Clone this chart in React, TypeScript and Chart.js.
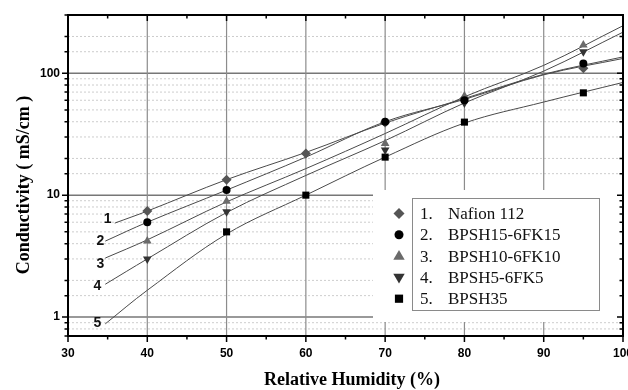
import React, { useEffect, useRef } from 'react';
import { Chart, registerables } from 'chart.js';

Chart.register(...registerables);

// ---- data ----
const rhPoints = [40, 50, 60, 70, 80, 95];
const nafion112 = [7.4, 13.4, 22, 39.5, 62, 110];
const bpsh15 = [6.0, 11.0, null, 40, 60, 120];
const bpsh10 = [4.2, 8.9, null, 26.5, 65, 170];
const bpsh5 = [3.0, 7.3, null, 23.5, 57, 150];
const bpsh35 = [null, 5.0, 10, 20.5, 39.7, 69];

const fitRH1 = [35.9, 40, 50, 60, 70, 80, 90, 100];
const fitRH = [34.7, 40, 50, 60, 70, 80, 90, 100];
const fit1 = [5.9, 7.4, 13.4, 22.4, 39, 62, 98, 136];
const fit2 = [4.2, 6.0, 11.0, 20.5, 40, 61, 97, 132];
const fit3 = [3.05, 4.3, 8.8, 16.5, 32, 64, 116, 245];
const fit4 = [1.86, 3.0, 7.2, 14.5, 28, 57, 104, 217];
const fit5 = [0.88, 1.66, 4.8, 10, 20.5, 39, 58, 84];

const seriesNames = ['Nafion 112', 'BPSH15-6FK15', 'BPSH10-6FK10', 'BPSH5-6FK5', 'BPSH35'];
const seriesNumbers = ['1.', '2.', '3.', '4.', '5.'];
const curveNumbers = ['1', '2', '3', '4', '5'];
const curveLabelRH = [35.0, 34.1, 34.1, 33.7, 33.7];
const curveLabelValue = [6.4, 4.2, 2.7, 1.8, 0.89];

const xMin = 30;
const xMax = 100;
const xStep = 10;
const yMin = 0.7;
const yMax = 300;

const xTitle = 'Relative Humidity (%)';
const yTitle = 'Conductivity ( mS/cm )';

// ---- styles ----
const markerStyles = [
  { shape: 'diamond', color: '#555555', r: 5 },
  { shape: 'circle', color: '#000000', r: 4 },
  { shape: 'up', color: '#6a6a6a', r: 5 },
  { shape: 'down', color: '#333333', r: 5 },
  { shape: 'square', color: '#000000', r: 3.6 },
];
const SANS = '"Liberation Sans", Arial, sans-serif';
const SERIF = '"Liberation Serif", "Times New Roman", serif';

function drawMarker(ctx: CanvasRenderingContext2D, shape: string, x: number, y: number, r: number, color: string) {
  ctx.save();
  ctx.fillStyle = color;
  ctx.beginPath();
  if (shape === 'diamond') {
    ctx.moveTo(x, y - r);
    ctx.lineTo(x + r, y);
    ctx.lineTo(x, y + r);
    ctx.lineTo(x - r, y);
  } else if (shape === 'circle') {
    ctx.arc(x, y, r, 0, Math.PI * 2);
  } else if (shape === 'up') {
    ctx.moveTo(x, y - r);
    ctx.lineTo(x + r * 0.95, y + r * 0.6);
    ctx.lineTo(x - r * 0.95, y + r * 0.6);
  } else if (shape === 'down') {
    ctx.moveTo(x, y + r);
    ctx.lineTo(x + r * 0.95, y - r * 0.6);
    ctx.lineTo(x - r * 0.95, y - r * 0.6);
  } else {
    ctx.rect(x - r, y - r, 2 * r, 2 * r);
  }
  ctx.closePath();
  ctx.fill();
  ctx.restore();
}

const isDecade = (v: number) => {
  const l = Math.log10(v);
  return Math.abs(l - Math.round(l)) < 1e-9;
};

const decorPlugin = {
  id: 'decor',
  beforeDatasetsDraw(chart: any) {
    const { ctx, chartArea: a, scales } = chart;
    const x = scales.x;
    const y = scales.y;
    ctx.save();
    // horizontal grid
    y.ticks.forEach((t: any) => {
      const py = y.getPixelForValue(t.value);
      if (py < a.top + 1.5 || py > a.bottom - 1.5) return;
      ctx.beginPath();
      if (isDecade(t.value)) {
        ctx.setLineDash([]);
        ctx.strokeStyle = '#777777';
        ctx.lineWidth = 1.5;
      } else {
        ctx.setLineDash([2, 2]);
        ctx.strokeStyle = '#cdcdcd';
        ctx.lineWidth = 1;
      }
      ctx.moveTo(a.left, py);
      ctx.lineTo(a.right, py);
      ctx.stroke();
    });
    // vertical grid
    ctx.setLineDash([]);
    x.ticks.forEach((t: any) => {
      const px = x.getPixelForValue(t.value);
      if (px < a.left + 1.5 || px > a.right - 1.5) return;
      ctx.beginPath();
      ctx.strokeStyle = '#8c8c8c';
      ctx.lineWidth = 1.2;
      ctx.moveTo(px, a.top);
      ctx.lineTo(px, a.bottom);
      ctx.stroke();
    });
    // legend backdrop hides grid
    ctx.fillStyle = '#ffffff';
    ctx.fillRect(373, 190, a.right - 1 - 373, 322 - 190);
    ctx.restore();
  },
  afterDraw(chart: any) {
    const { ctx, chartArea: a, scales } = chart;
    const x = scales.x;
    const y = scales.y;
    ctx.save();
    // frame
    ctx.strokeStyle = '#000';
    ctx.lineWidth = 2;
    ctx.strokeRect(a.left, a.top, a.right - a.left, a.bottom - a.top);
    // ticks
    ctx.lineWidth = 1.5;
    ctx.beginPath();
    for (let v = xMin; v <= xMax + 1e-9; v += xStep / 2) {
      const px = x.getPixelForValue(v);
      const len = Math.abs(v % xStep) < 1e-9 ? 6 : 3.5;
      ctx.moveTo(px, a.bottom);
      ctx.lineTo(px, a.bottom + len);
      ctx.moveTo(px, a.top);
      ctx.lineTo(px, a.top + len);
    }
    y.ticks.forEach((t: any) => {
      const py = y.getPixelForValue(t.value);
      if (py < a.top - 0.5 || py > a.bottom + 0.5) return;
      const len = isDecade(t.value) ? 6 : 3.5;
      ctx.moveTo(a.left - len, py);
      ctx.lineTo(a.left, py);
      ctx.moveTo(a.right - len, py);
      ctx.lineTo(a.right, py);
    });
    ctx.stroke();

    // legend
    ctx.strokeStyle = '#8a8a8a';
    ctx.lineWidth = 1;
    ctx.strokeRect(412.5, 198.5, 187, 112);
    ctx.font = '17px ' + SERIF;
    ctx.fillStyle = '#111';
    ctx.textBaseline = 'middle';
    ctx.textAlign = 'left';
    seriesNames.forEach((name, i) => {
      const ry = 213.5 + i * 21.3;
      const m = markerStyles[i];
      drawMarker(ctx, m.shape, 399, ry, m.shape === 'up' || m.shape === 'down' ? 6 : m.r + 0.5, m.color);
      ctx.fillText(seriesNumbers[i], 420, ry + 1);
      ctx.fillText(name, 448, ry + 1);
    });

    // curve labels
    ctx.font = 'bold 14px ' + SANS;
    ctx.fillStyle = '#111';
    ctx.textAlign = 'center';
    curveNumbers.forEach((n, i) => {
      ctx.fillText(n, x.getPixelForValue(curveLabelRH[i]), y.getPixelForValue(curveLabelValue[i]));
    });

    // axis titles
    ctx.font = 'bold 18px ' + SERIF;
    ctx.fillStyle = '#000';
    ctx.textAlign = 'center';
    ctx.fillText(xTitle, 352, 380);
    ctx.translate(24, 185);
    ctx.rotate(-Math.PI / 2);
    ctx.fillText(yTitle, 0, 0);
    ctx.restore();
  },
};

export default function App() {
  const ref = useRef<HTMLCanvasElement>(null);
  useEffect(() => {
    if (!ref.current) return;
    const scatter = [nafion112, bpsh15, bpsh10, bpsh5, bpsh35].map((vals, i) => ({
      type: 'scatter' as const,
      label: seriesNames[i],
      data: rhPoints.map((rh, j) => (vals[j] == null ? null : { x: rh, y: vals[j] })).filter(Boolean),
      showLine: false,
      pointStyle: ['rectRot', 'circle', 'triangle', 'triangle', 'rect'][i],
      rotation: i === 3 ? 180 : 0,
      pointRadius: [5, 4, 5, 5, 5][i],
      pointBackgroundColor: markerStyles[i].color,
      pointBorderColor: markerStyles[i].color,
      pointBorderWidth: 0,
      order: i === 0 ? 0.5 : 0,
    }));
    const fits = [fit1, fit2, fit3, fit4, fit5].map((vals, i) => ({
      type: 'line' as const,
      label: 'fit ' + (i + 1),
      data: (i === 0 ? fitRH1 : fitRH).map((rh, j) => ({ x: rh, y: vals[j] })),
      borderColor: '#4a4a4a',
      borderWidth: 1,
      pointRadius: 0,
      fill: false,
      tension: 0.35,
      order: 1,
    }));
    const chart = new Chart(ref.current, {
      type: 'scatter',
      data: { datasets: [...fits, ...scatter] as any },
      options: {
        responsive: false,
        animation: false,
        layout: { padding: { top: 15, right: 5, left: 0, bottom: 0 } },
        plugins: { legend: { display: false }, tooltip: { enabled: false } },
        scales: {
          x: {
            type: 'linear',
            min: xMin,
            max: xMax,
            ticks: {
              stepSize: xStep,
              color: '#000',
              font: { family: SANS, size: 12, weight: 'bold' },
              padding: 10,
              maxRotation: 0,
              autoSkip: false,
            },
            grid: { display: false, drawTicks: false },
            border: { display: false },
            afterFit: (s: any) => {
              s.height = 54;
              s.paddingLeft = 0;
              s.paddingRight = 0;
            },
          },
          y: {
            type: 'logarithmic',
            min: yMin,
            max: yMax,
            ticks: {
              color: '#000',
              font: { family: SANS, size: 12, weight: 'bold' },
              padding: 8,
              autoSkip: false,
              callback: (v: any) => (isDecade(Number(v)) ? String(Number(v)) : ''),
            },
            grid: { display: false, drawTicks: false },
            border: { display: false },
            afterFit: (s: any) => {
              s.width = 68;
              s.paddingTop = 0;
              s.paddingBottom = 0;
            },
          },
        },
      } as any,
      plugins: [decorPlugin],
    });
    return () => chart.destroy();
  }, []);
  return (
    <div style={{ position: 'absolute', left: 0, top: 0, width: 628, height: 390, background: '#fff' }}>
      <canvas ref={ref} width={628} height={390} />
    </div>
  );
}
